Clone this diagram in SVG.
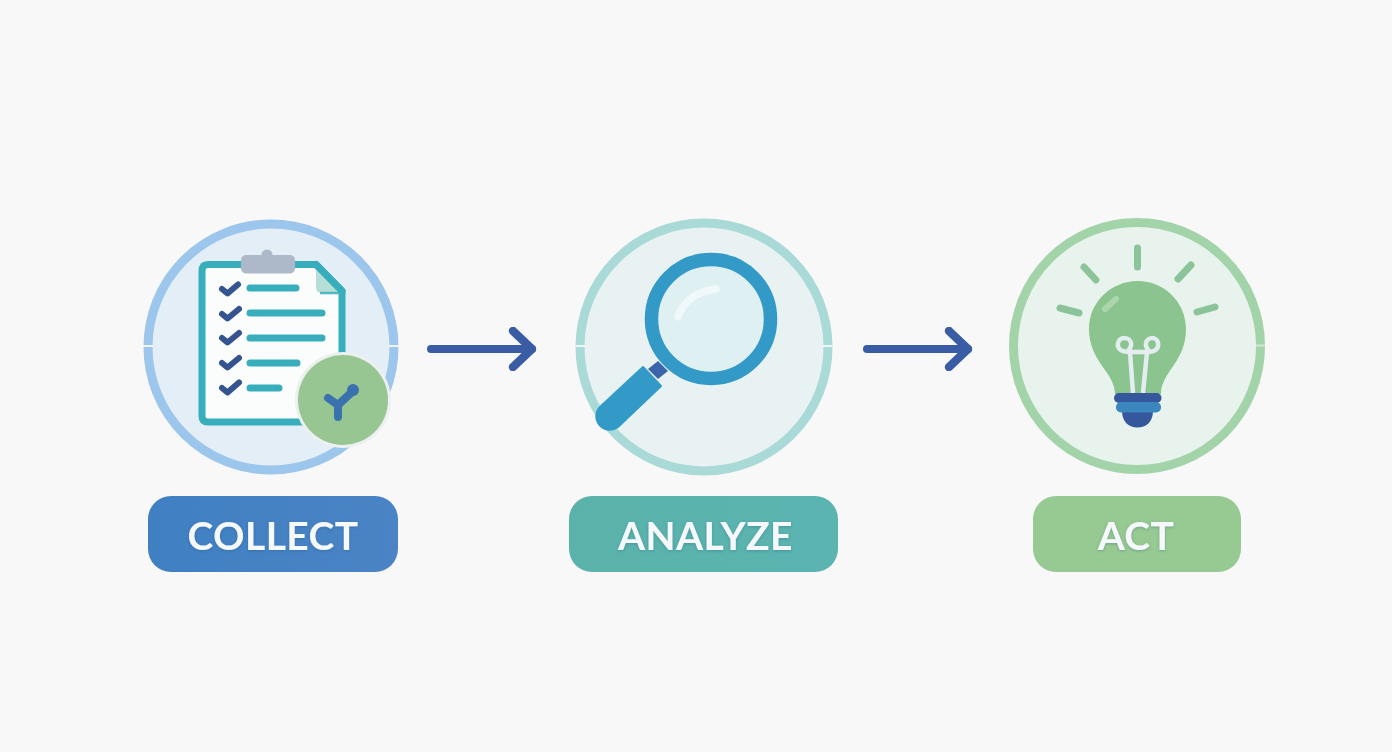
<svg xmlns="http://www.w3.org/2000/svg" width="1392" height="752" viewBox="0 0 1392 752">
<defs>
<linearGradient id="gc" x1="0" y1="0" x2="1" y2="0"><stop offset="0" stop-color="#3f80c2"/><stop offset="1" stop-color="#4b84c5"/></linearGradient>
<linearGradient id="ga" x1="0" y1="0" x2="1" y2="0"><stop offset="0" stop-color="#5bb2ab"/><stop offset="1" stop-color="#5bb4b0"/></linearGradient>
<filter id="ts" x="-10%" y="-30%" width="120%" height="160%"><feDropShadow dx="0" dy="1" stdDeviation="1.500" flood-color="#1d4a7a" flood-opacity=".3"/></filter>
<marker id="ah" viewBox="0 0 30 44" refX="24" refY="22" markerWidth="30" markerHeight="44" markerUnits="userSpaceOnUse" orient="auto"><path d="M5 4 L24 22 L5 40" fill="none" stroke="#3a5ca5" stroke-width="8.500" stroke-linecap="round" stroke-linejoin="round"/></marker>
</defs>
<style>
.lbl{font-family:"Lato","Liberation Sans",sans-serif;font-weight:700;font-size:39px;letter-spacing:.4px;fill:#f6f9fb;text-anchor:middle;filter:url(#ts)}
.tick{stroke:#f0f4f6;stroke-width:2}
.bar{stroke:#38aebc;stroke-width:7;stroke-linecap:round;fill:none}
.chk{stroke:#35548f;stroke-width:6;stroke-linecap:round;stroke-linejoin:round;fill:none}
.ray{stroke:#8cc49a;stroke-width:7;stroke-linecap:round}
.conn{stroke:#3a5ca5;stroke-width:8;stroke-linecap:round;fill:none;marker-end:url(#ah)}
</style>
<rect width="1392" height="752" fill="#f8f8f8"/>
<g id="collect">
<circle cx="271" cy="347" r="123" fill="#e3eef7" stroke="#9cc6ec" stroke-width="9"/>
<path class="tick" d="M143 346H153M389 346H399"/>
<path d="M208 264.500H316L342 291V416Q342 422 336 422H208Q202 422 202 416V271Q202 264.500 208 264.500Z" fill="#fbfcfc" stroke="#38aebc" stroke-width="7" stroke-linejoin="round"/>
<path d="M316 270V287Q316 293 322 293H341Z" fill="#b5dfd6"/>
<path d="M320 293H341" stroke="#4fb8c2" stroke-width="2.500" fill="none"/>
<path d="M316 264.500L342 291" stroke="#38aebc" stroke-width="7" stroke-linecap="round" fill="none"/>
<circle cx="267" cy="255" r="5.500" fill="#adb8c8"/>
<rect x="241" y="255" width="54" height="18.500" rx="5" fill="#adb8c8"/>
<path class="bar" d="M250 288H296M250 313H322M250 338H322M250 363H297M250 388H279"/>
<path class="chk" d="M222 289L227.500 293.500L238 284.500M222 314L227.500 318.500L239 309M222 338L227.500 342.500L239 333M222 363L227.500 367.500L239 358M222 388L227.500 392.500L239 382.500"/>
<circle cx="343" cy="400" r="48" fill="#ecf0f0"/>
<circle cx="343" cy="400" r="45" fill="#97c692"/>
<path d="M338 417V405L328 398M338 405L353 391" fill="none" stroke="#3a72ae" stroke-width="8" stroke-linecap="round" stroke-linejoin="round"/>
<circle cx="353" cy="390" r="6" fill="#3a72ae"/>
<rect x="148" y="496" width="250" height="76" rx="23" fill="url(#gc)"/>
<text class="lbl" x="273" y="550">COLLECT</text>
</g>
<g id="analyze">
<circle cx="704" cy="347" r="124" fill="#e8f2f3" stroke="#a9dad8" stroke-width="9"/>
<path class="tick" d="M575 346H585M823 346H833"/>
<path d="M648 369L658 361L668 371L658 379Z" fill="#3a65a8"/>
<circle cx="711" cy="319" r="53" fill="#dff0f3"/>
<circle cx="711" cy="319" r="59.500" fill="none" stroke="#339ac7" stroke-width="13.500"/>
<path d="M678 317Q686 293 716 289" fill="none" stroke="#f4fafb" stroke-opacity=".8" stroke-width="7.500" stroke-linecap="round"/>
<path d="M643 367L661 386L618 427A13.500 13.500 0 0 1 600 407Z" fill="#339ac7" stroke="#339ac7" stroke-width="2" stroke-linejoin="round"/>
<rect x="569" y="496" width="269" height="76" rx="23" fill="url(#ga)"/>
<text class="lbl" x="705.500" y="550">ANALYZE</text>
</g>
<g id="act">
<circle cx="1137" cy="346" r="123.500" fill="#e9f3ee" stroke="#a2d3a9" stroke-width="9"/>
<path class="tick" d="M1256 345.500H1265" opacity=".6"/>
<path class="ray" d="M1137.500 248V267M1084 267L1096 280M1191 265L1178 279M1060 308L1079 313M1215 307L1197 312"/>
<path d="M1115 394C1115 372 1089 362 1089 329C1089 302 1111 281 1138 281C1164 281 1186 302 1186 329C1186 362 1161 372 1161 394Z" fill="#8bc48e"/>
<path d="M1105 309L1116 299" fill="none" stroke="#abd6ad" stroke-width="6" stroke-linecap="round"/>
<path d="M1133 393L1130 352C1120 352 1117 348 1118 343C1120 336 1130 337 1131 343C1132 347 1129 350 1127 352H1150C1148 350 1145 347 1146 343C1147 337 1157 336 1158 343C1159 348 1156 352 1147 352L1143 393" fill="none" stroke="#e4eef0" stroke-width="4.500" stroke-linejoin="round"/>
<rect x="1114" y="393" width="47.500" height="10" rx="5" fill="#35589c"/>
<path d="M1122 411H1153C1153 422 1146 427.500 1137.500 427.500C1129 427.500 1122 422 1122 411Z" fill="#35589c"/>
<rect x="1116" y="402" width="45" height="10.500" rx="5" fill="#3a86bd"/>
<rect x="1033" y="496" width="208" height="76" rx="23" fill="#97c992"/>
<text class="lbl" x="1136" y="550">ACT</text>
</g>
<g id="connectors">
<path class="conn" d="M431 349H532"/>
<path class="conn" d="M867 349H968"/>
</g>
</svg>
